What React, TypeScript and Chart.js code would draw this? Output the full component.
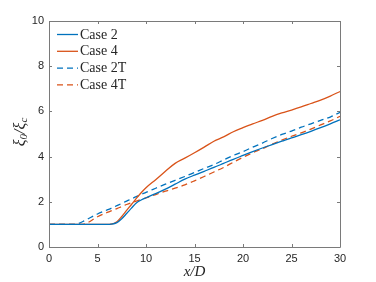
import React, { useEffect, useRef } from 'react';
import { Chart, registerables } from 'chart.js';

Chart.register(...registerables);

// x/D sample positions shared by all series
const xPositions = [0, 1, 2, 2.8, 3, 3.5, 4, 5, 6, 6.4, 7, 7.5, 8, 8.5, 9, 9.5, 10, 11, 12, 13, 14, 15, 16, 17, 18, 19, 20, 21, 22, 23, 24, 25, 26, 27, 28, 29, 30];

const case2 = [1, 1, 1, 1, 1, 1, 1, 1, 1, 1.01, 1.08, 1.25, 1.48, 1.72, 1.95, 2.08, 2.18, 2.36, 2.56, 2.78, 3.0, 3.18, 3.35, 3.52, 3.7, 3.88, 4.05, 4.22, 4.38, 4.53, 4.68, 4.83, 4.97, 5.12, 5.28, 5.45, 5.63];
const case4 = [1, 1, 1, 1, 1, 1, 1, 1, 1, 1.01, 1.12, 1.35, 1.62, 1.88, 2.15, 2.4, 2.62, 2.98, 3.35, 3.7, 3.93, 4.17, 4.42, 4.68, 4.87, 5.1, 5.28, 5.45, 5.6, 5.78, 5.93, 6.06, 6.2, 6.35, 6.5, 6.68, 6.88];
const case2T = [1, 1, 1, 1, 1.03, 1.13, 1.24, 1.46, 1.64, 1.71, 1.83, 1.93, 2.03, 2.13, 2.23, 2.32, 2.42, 2.6, 2.78, 2.95, 3.12, 3.3, 3.48, 3.65, 3.85, 4.05, 4.22, 4.42, 4.6, 4.8, 4.98, 5.13, 5.3, 5.45, 5.6, 5.75, 5.96];
const case4T = [1, 1, 1, 1, 1, 1.0, 1.08, 1.34, 1.53, 1.6, 1.7, 1.79, 1.88, 1.96, 2.03, 2.1, 2.17, 2.32, 2.47, 2.6, 2.75, 2.93, 3.12, 3.32, 3.52, 3.75, 3.97, 4.17, 4.35, 4.55, 4.73, 4.9, 5.05, 5.22, 5.4, 5.58, 5.78];

const seriesLabels = ['Case 2', 'Case 4', 'Case 2T', 'Case 4T'];
const xTicks = [0, 5, 10, 15, 20, 25, 30];
const yTicks = [0, 2, 4, 6, 8, 10];

const BLUE = '#0072BD';
const ORANGE = '#D95319';
const AXIS = '#7a7a7a';
const TEXT = '#262626';

const toPoints = (ys: number[]) => ys.map((y, i) => ({ x: xPositions[i], y }));

const decorPlugin = {
  id: 'decor',
  afterDraw(chart: any) {
    const { ctx, chartArea: a } = chart;
    const xs = chart.scales.x;
    const ys = chart.scales.y;
    ctx.save();
    // box
    ctx.strokeStyle = AXIS;
    ctx.lineWidth = 1;
    ctx.beginPath();
    ctx.rect(Math.round(a.left) + 0.5, Math.round(a.top) + 0.5, Math.round(a.right - a.left), Math.round(a.bottom - a.top));
    ctx.stroke();
    // inward ticks
    const tl = 3;
    ctx.beginPath();
    xTicks.forEach((v) => {
      const px = Math.round(xs.getPixelForValue(v)) + 0.5;
      ctx.moveTo(px, a.bottom);
      ctx.lineTo(px, a.bottom - tl);
      ctx.moveTo(px, a.top);
      ctx.lineTo(px, a.top + tl);
    });
    yTicks.forEach((v) => {
      const py = Math.round(ys.getPixelForValue(v)) + 0.5;
      ctx.moveTo(a.left, py);
      ctx.lineTo(a.left + tl, py);
      ctx.moveTo(a.right, py);
      ctx.lineTo(a.right - tl, py);
    });
    ctx.stroke();

    // legend
    chart.data.datasets.forEach((ds: any, i: number) => {
      const y = a.top + 13.5 + i * 16.8;
      ctx.strokeStyle = ds.borderColor;
      ctx.lineWidth = ds.borderWidth;
      ctx.setLineDash(ds.borderDash || []);
      ctx.beginPath();
      ctx.moveTo(a.left + 8, y);
      ctx.lineTo(a.left + 29, y);
      ctx.stroke();
      ctx.setLineDash([]);
      ctx.fillStyle = TEXT;
      ctx.font = '14px "Liberation Serif"';
      ctx.textAlign = 'left';
      ctx.textBaseline = 'middle';
      ctx.fillText(ds.label, a.left + 31, y + 0.5);
    });

    // x title
    ctx.fillStyle = TEXT;
    ctx.font = 'italic 15px "Liberation Serif"';
    ctx.textAlign = 'center';
    ctx.textBaseline = 'middle';
    ctx.fillText('x/D', (a.left + a.right) / 2, 272);

    // y title with subscripts
    ctx.translate(21, (a.top + a.bottom) / 2 - 2);
    ctx.rotate(-Math.PI / 2);
    const big = 'italic 16px "Liberation Serif"';
    const small = 'italic 11px "Liberation Serif"';
    const parts: [string, string, number][] = [
      ['ξ', big, 0],
      ['0', small, 3],
      ['/ξ', big, 0],
      ['c', small, 3],
    ];
    let total = 0;
    parts.forEach(([t, f]) => {
      ctx.font = f;
      total += ctx.measureText(t).width;
    });
    let cx = -total / 2;
    ctx.textAlign = 'left';
    parts.forEach(([t, f, dy]) => {
      ctx.font = f;
      ctx.fillText(t, cx, dy);
      cx += ctx.measureText(t).width;
    });
    ctx.restore();
  },
};

export default function App() {
  const ref = useRef<HTMLCanvasElement | null>(null);
  useEffect(() => {
    if (!ref.current) return;
    const chart = new Chart(ref.current, {
      type: 'line',
      data: {
        datasets: [
          { label: seriesLabels[0], data: toPoints(case2), borderColor: BLUE, borderWidth: 1.3, pointRadius: 0, cubicInterpolationMode: 'monotone' },
          { label: seriesLabels[1], data: toPoints(case4), borderColor: ORANGE, borderWidth: 1.3, pointRadius: 0, cubicInterpolationMode: 'monotone' },
          { label: seriesLabels[2], data: toPoints(case2T), borderColor: BLUE, borderWidth: 1.3, borderDash: [6, 4], pointRadius: 0, cubicInterpolationMode: 'monotone' },
          { label: seriesLabels[3], data: toPoints(case4T), borderColor: ORANGE, borderWidth: 1.3, borderDash: [6, 4], pointRadius: 0, cubicInterpolationMode: 'monotone' },
        ] as any,
      },
      options: {
        animation: false,
        responsive: false,
        events: [],
        layout: { padding: { top: 21, right: 36, left: 0, bottom: 0 } },
        plugins: { legend: { display: false }, tooltip: { enabled: false } },
        scales: {
          x: {
            type: 'linear',
            min: 0,
            max: 30,
            afterBuildTicks: (s: any) => { s.ticks = xTicks.map((v) => ({ value: v })); },
            afterFit: (s: any) => { s.height = 35; },
            grid: { display: false, drawTicks: false },
            border: { display: false },
            ticks: { color: TEXT, font: { family: '"Liberation Sans"', size: 11 }, padding: 5, maxRotation: 0 },
          },
          y: {
            type: 'linear',
            min: 0,
            max: 10,
            afterBuildTicks: (s: any) => { s.ticks = yTicks.map((v) => ({ value: v })); },
            afterFit: (s: any) => { s.width = 49; },
            grid: { display: false, drawTicks: false },
            border: { display: false },
            ticks: { color: TEXT, font: { family: '"Liberation Sans"', size: 11 }, padding: 5 },
          },
        },
      },
      plugins: [decorPlugin],
    });
    return () => chart.destroy();
  }, []);
  return (
    <div style={{ position: 'fixed', left: 0, top: 0, width: 376, height: 282, background: '#fff' }}>
      <canvas ref={ref} width={376} height={282} style={{ width: 376, height: 282 }} />
    </div>
  );
}
